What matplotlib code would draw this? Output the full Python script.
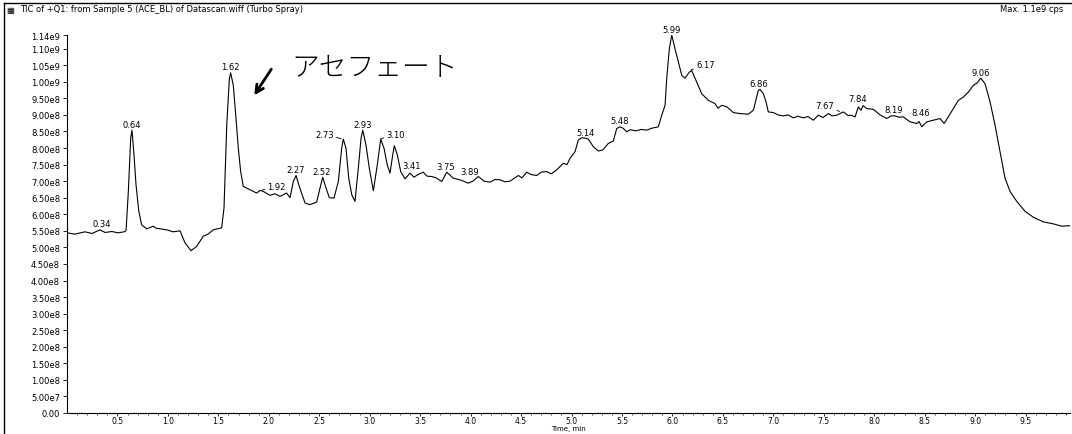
import numpy as np
import matplotlib
matplotlib.use('Agg')
import matplotlib.pyplot as plt
from matplotlib.lines import Line2D

# TIC trace (time in min, intensity in units of 1e8 cps)
time_min = [
    0.000, 0.079, 0.178, 0.248, 0.327, 0.377, 0.446, 0.505, 0.565, 0.585,
    0.608, 0.631, 0.644, 0.664, 0.684, 0.711, 0.740, 0.790, 0.823, 0.855,
    0.882, 0.922, 0.988, 1.053, 1.120, 1.169, 1.229, 1.285, 1.351, 1.397,
    1.450, 1.533, 1.556, 1.583, 1.609, 1.622, 1.648, 1.675, 1.698, 1.721,
    1.747, 1.814, 1.880, 1.913, 1.946, 2.012, 2.061, 2.111, 2.177, 2.210,
    2.243, 2.270, 2.302, 2.359, 2.408, 2.475, 2.507, 2.534, 2.567, 2.600,
    2.646, 2.689, 2.722, 2.738, 2.765, 2.792, 2.822, 2.854, 2.887, 2.914,
    2.931, 2.963, 2.996, 3.036, 3.075, 3.109, 3.142, 3.174, 3.201, 3.228,
    3.244, 3.274, 3.307, 3.350, 3.399, 3.439, 3.479, 3.531, 3.568, 3.614,
    3.657, 3.714, 3.763, 3.828, 3.895, 3.977, 4.023, 4.076, 4.133, 4.192,
    4.242, 4.291, 4.341, 4.390, 4.473, 4.509, 4.556, 4.599, 4.655, 4.698,
    4.754, 4.797, 4.853, 4.919, 4.955, 4.985, 5.035, 5.067, 5.101, 5.134,
    5.166, 5.216, 5.266, 5.309, 5.365, 5.414, 5.448, 5.481, 5.510, 5.547,
    5.580, 5.639, 5.689, 5.745, 5.798, 5.860, 5.894, 5.927, 5.943, 5.969,
    5.993, 6.026, 6.059, 6.093, 6.125, 6.167, 6.191, 6.241, 6.290, 6.356,
    6.422, 6.452, 6.489, 6.541, 6.603, 6.670, 6.752, 6.802, 6.851, 6.868,
    6.901, 6.928, 6.950, 7.000, 7.047, 7.099, 7.146, 7.198, 7.245, 7.297,
    7.344, 7.396, 7.446, 7.493, 7.545, 7.582, 7.628, 7.694, 7.740, 7.770,
    7.810, 7.842, 7.869, 7.889, 7.926, 7.991, 8.057, 8.124, 8.166, 8.206,
    8.245, 8.288, 8.355, 8.421, 8.444, 8.471, 8.520, 8.586, 8.652, 8.692,
    8.734, 8.784, 8.834, 8.883, 8.933, 8.982, 9.022, 9.055, 9.098, 9.148,
    9.197, 9.247, 9.296, 9.346, 9.412, 9.494, 9.577, 9.676, 9.775, 9.858,
    9.957,
]
tic_e8 = [
    5.44, 5.40, 5.47, 5.42, 5.53, 5.45, 5.48, 5.44, 5.47, 5.50,
    6.69, 8.29, 8.54, 7.79, 6.89, 6.10, 5.68, 5.56, 5.60, 5.64,
    5.58, 5.56, 5.53, 5.47, 5.50, 5.14, 4.90, 5.03, 5.34, 5.40,
    5.53, 5.59, 6.19, 8.69, 10.09, 10.27, 9.89, 8.89, 7.99, 7.29,
    6.84, 6.74, 6.64, 6.72, 6.69, 6.57, 6.62, 6.54, 6.64, 6.50,
    6.99, 7.17, 6.84, 6.34, 6.29, 6.37, 6.79, 7.12, 6.79, 6.50,
    6.49, 6.99, 7.99, 8.27, 7.99, 7.09, 6.59, 6.39, 7.39, 8.29,
    8.54, 8.09, 7.39, 6.71, 7.49, 8.27, 7.99, 7.49, 7.24, 7.79,
    8.07, 7.79, 7.29, 7.07, 7.24, 7.12, 7.20, 7.27, 7.15, 7.14,
    7.10, 6.99, 7.27, 7.09, 7.04, 6.94, 7.00, 7.14, 7.00, 6.97,
    7.05, 7.04, 6.98, 7.00, 7.17, 7.10, 7.27, 7.20, 7.17, 7.27,
    7.29, 7.22, 7.34, 7.54, 7.50, 7.69, 7.89, 8.24, 8.31, 8.30,
    8.27, 8.04, 7.91, 7.94, 8.14, 8.21, 8.59, 8.64, 8.60, 8.49,
    8.55, 8.52, 8.56, 8.54, 8.60, 8.64, 8.99, 9.29, 10.09, 10.99,
    11.41, 10.99, 10.59, 10.19, 10.11, 10.29, 10.34, 9.99, 9.64, 9.44,
    9.34, 9.20, 9.29, 9.24, 9.07, 9.04, 9.02, 9.14, 9.74, 9.77,
    9.64, 9.39, 9.09, 9.07, 9.00, 8.97, 9.00, 8.91, 8.96, 8.91,
    8.95, 8.84, 8.99, 8.92, 9.04, 8.97, 8.99, 9.09, 8.98, 8.99,
    8.94, 9.24, 9.14, 9.28, 9.19, 9.17, 9.00, 8.89, 8.97, 8.97,
    8.93, 8.94, 8.79, 8.74, 8.80, 8.64, 8.79, 8.84, 8.89, 8.74,
    8.94, 9.19, 9.44, 9.54, 9.69, 9.89, 9.97, 10.11, 9.94, 9.39,
    8.69, 7.89, 7.09, 6.69, 6.39, 6.09, 5.91, 5.77, 5.71, 5.64,
    5.66,
]

# retention time labels printed on the trace
peak_labels = ['0.34', '0.64', '1.62', '1.92', '2.27', '2.52', '2.73', '2.93',
               '3.10', '3.41', '3.75', '3.89', '5.14', '5.48', '5.99', '6.17',
               '6.86', '7.67', '7.84', '8.19', '8.46', '9.06']

y_ticks = [0, 5e7, 1e8, 1.5e8, 2e8, 2.5e8, 3e8, 3.5e8, 4e8, 4.5e8, 5e8, 5.5e8,
           6e8, 6.5e8, 7e8, 7.5e8, 8e8, 8.5e8, 9e8, 9.5e8, 1e9, 1.05e9, 1.1e9, 1.14e9]
y_tick_labels = ['0.00', '5.00e7', '1.00e8', '1.50e8', '2.00e8', '2.50e8', '3.00e8',
                 '3.50e8', '4.00e8', '4.50e8', '5.00e8', '5.50e8', '6.00e8', '6.50e8',
                 '7.00e8', '7.50e8', '8.00e8', '8.50e8', '9.00e8', '9.50e8', '1.00e9',
                 '1.05e9', '1.10e9', '1.14e9']
x_ticks = [0.5, 1.0, 1.5, 2.0, 2.5, 3.0, 3.5, 4.0, 4.5, 5.0, 5.5, 6.0, 6.5, 7.0,
           7.5, 8.0, 8.5, 9.0, 9.5]
x_tick_labels = ['0.5', '1.0', '1.5', '2.0', '2.5', '3.0', '3.5', '4.0', '4.5', '5.0',
                 '5.5', '6.0', '6.5', '7.0', '7.5', '8.0', '8.5', '9.0', '9.5']

t = np.array(time_min)
y = np.array(tic_e8) * 1e8

W, H = 1072, 435
fig = plt.figure(figsize=(W / 100, H / 100), dpi=100)
ax = fig.add_axes([67 / W, 21 / H, 1003 / W, 377.6 / H])

ax.plot(t, y, color='black', lw=0.8)

ax.set_xlim(0, 9.94)
ax.set_ylim(0, 1.14e9)
ax.set_xticks(x_ticks)
ax.set_xticklabels(x_tick_labels)
ax.set_xticks(np.arange(0.1, 9.95, 0.1), minor=True)
ax.set_yticks(y_ticks)
ax.set_yticklabels(y_tick_labels)
ax.tick_params(axis='y', length=3, width=0.6, pad=2, labelsize=6)
ax.tick_params(axis='x', which='major', length=2, width=0.6, pad=0.3, labelsize=5.5)
ax.tick_params(axis='x', which='minor', length=1.2, width=0.5)
for s in ['top', 'right']:
    ax.spines[s].set_visible(False)
for s in ['left', 'bottom']:
    ax.spines[s].set_linewidth(0.8)
ax.set_xlabel('Time, min', fontsize=5)
ax.xaxis.set_label_coords(0.5, -0.031)

# label offsets in pixels (default: just above the peak)
label_offsets = {'1.92': (16, 4), '2.73': (-18, 5), '3.10': (16, 5), '3.89': (10, 8),
                 '6.17': (16, 6), '7.67': (-16, 6), '3.41': (0, 8), '7.84': (0, 8),
                 '8.46': (0, 9)}
leaders = ['1.92', '2.73', '3.10', '6.17', '7.67']
for lab in peak_labels:
    pt = float(lab)
    near = (t > pt - 0.025) & (t < pt + 0.025)
    py = y[near].max() if near.any() else np.interp(pt, t, y)
    dx, dy = label_offsets.get(lab, (0, 6))
    arrow = dict(arrowstyle='-', lw=0.6, color='black', shrinkA=0, shrinkB=1) if lab in leaders else None
    ax.annotate(lab, xy=(pt, py), xytext=(dx, dy), textcoords='offset pixels',
                ha='center', va='center', fontsize=6, annotation_clip=False,
                arrowprops=arrow)

# hand-written note: acephate peak
ax.annotate('', xy=(1.84, 9.52e8), xytext=(2.04, 10.45e8),
            arrowprops=dict(arrowstyle='->', lw=2, color='black', mutation_scale=14))
ax.text(2.22, 10.45e8, 'アセフェート', fontsize=20, va='center', ha='left',
        family=['Noto Sans CJK JP', 'DejaVu Sans'], fontweight='light')

# window header and frame
fig.text(6 / W, 1 - 10 / H, '▦', fontsize=6, va='center', ha='left')
fig.text(20 / W, 1 - 10 / H, 'TIC of +Q1: from Sample 5 (ACE_BL) of Datascan.wiff (Turbo Spray)',
         fontsize=6, va='center', ha='left')
fig.text(1000 / W, 1 - 10 / H, 'Max. 1.1e9 cps', fontsize=6, va='center', ha='left')
fig.add_artist(Line2D([4 / W, 1], [1 - 4 / H, 1 - 4 / H], transform=fig.transFigure,
                      color='black', lw=1))
fig.add_artist(Line2D([4 / W, 4 / W], [0, 1 - 4 / H], transform=fig.transFigure,
                      color='black', lw=1))

fig.savefig('out.png', dpi=100)
